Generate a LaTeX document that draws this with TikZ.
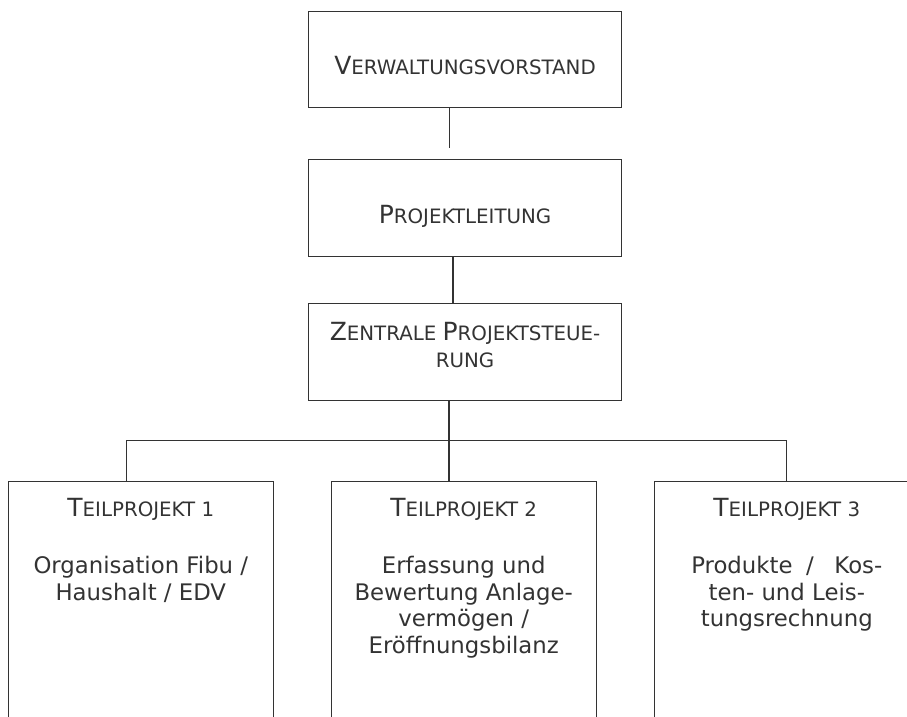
\documentclass[tikz,border=0pt]{standalone}
\usepackage{fontspec}
\setmainfont{DejaVu Sans}
\usetikzlibrary{positioning}

\definecolor{linegray}{HTML}{333333}
\definecolor{textgray}{HTML}{333333}

% Word-like small caps: big first letter, small rest
\newcommand\capbig[1]{{\fontsize{25}{28}\selectfont #1}}
\newcommand\capsmall[1]{{\fontsize{19.8}{28}\selectfont #1}}

\begin{document}
\begin{tikzpicture}[x=1pt, y=-1pt,
    nodes = {text=textgray},
    orgbox/.style = {draw=linegray, line width=1.3pt, minimum width=312.6pt,
      minimum height=96.4pt, inner sep=0pt},
    subbox/.style = {draw=linegray, line width=1.3pt, minimum width=265pt,
      minimum height=300pt, anchor=north, inner sep=0pt},
    boxtext/.style = {align=center, anchor=base, inner sep=0pt,
      font=\fontsize{22.8}{26.7}\selectfont},
    link/.style = {draw=linegray, line width=1.3pt}]
  \useasboundingbox (0,0) rectangle (907,717);
  \clip (0,0) rectangle (907,717);

  % upper chain (label base = last text line)
  \node[orgbox, label={[boxtext, yshift=-63.7pt]north:%
      \capbig{V}\capsmall{ERWALTUNGSVORSTAND}}] (vorstand) at (465,59.5) {};
  \node[orgbox, label={[boxtext, yshift=-64pt]north:%
      \capbig{P}\capsmall{ROJEKTLEITUNG}}] (leitung) at (465,208) {};
  \node[orgbox, label={[boxtext, yshift=-64pt]north:%
      \capbig{Z}\capsmall{ENTRALE }\capbig{P}\capsmall{ROJEKTSTEUE-}\\
      \capsmall{RUNG}}] (steuerung) at (465,352) {};

  % sub projects
  \node[subbox,
    label={[boxtext, yshift=-35.7pt]north:\capbig{T}\capsmall{EILPROJEKT 1}},
    label={[boxtext, yshift=-119pt]north:Organisation Fibu /\\
      Haushalt / EDV}] (tp1) at (140.8,481) {};
  \node[subbox,
    label={[boxtext, yshift=-35.7pt]north:\capbig{T}\capsmall{EILPROJEKT 2}},
    label={[boxtext, yshift=-172.4pt]north:Erfassung und\\
      Bewertung Anlage-\\ vermögen /\\ Eröffnungsbilanz}] (tp2) at (463.7,481) {};
  \node[subbox,
    label={[boxtext, yshift=-35.7pt]north:\capbig{T}\capsmall{EILPROJEKT 3}},
    label={[boxtext, yshift=-145.7pt]north:Produkte\hspace{0.6em}/\hspace{0.9em}Kos-\\
      ten- und Leis-\\ tungsrechnung}] (tp3) at (786.8,481) {};

  % connectors
  \coordinate (vorstandfoot) at (449.3,148);
  \coordinate (bus) at (449,440.7);
  \draw[link] (vorstand.south -| vorstandfoot) -- (vorstandfoot);
  \draw[link] ([xshift=-12pt]leitung.south) -- ([xshift=-12pt]steuerung.north);
  \draw[link] ([xshift=-16pt]steuerung.south) -- ([xshift=-14.7pt]tp2.north);
  \draw[link] ([xshift=-14.1pt]tp1.north) |- (bus) -| (tp3.north);
\end{tikzpicture}
\end{document}
